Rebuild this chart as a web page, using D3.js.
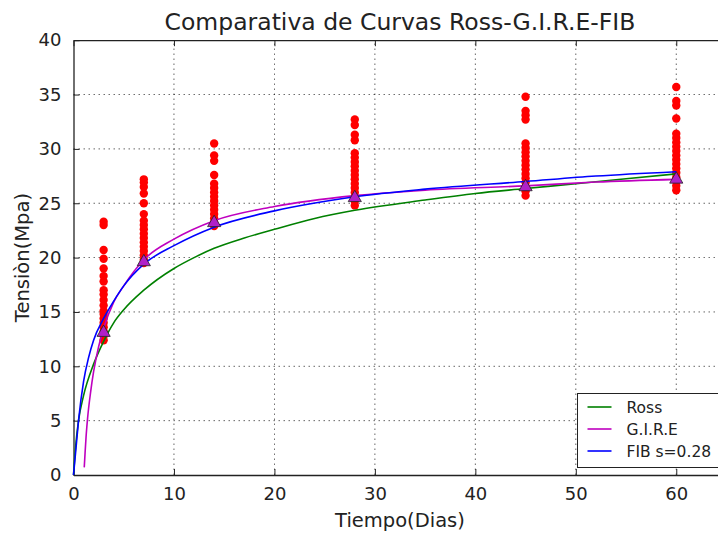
<!DOCTYPE html>
<html>
<head>
<meta charset="utf-8">
<script src="https://cdn.jsdelivr.net/npm/d3@7"></script>
<style>
    body { margin: 0; background: #fff; }
    svg { font-family: "DejaVu Sans", sans-serif; display: block; }
    .grid line { stroke: #000; stroke-width: 0.8; stroke-dasharray: 1.5,3.5; opacity: 0.75; }
</style>
</head>
<body>
<div id="chart"></div>
<script>
"use strict";

// ensayos (dias, tension)
const test_days = [3, 7, 14, 28, 45, 60];
const test_values = [
    [23.3, 23.0, 20.7, 19.9, 19.0, 18.3, 17.8, 17.0, 16.6, 16.1, 15.6, 15.1, 14.8, 14.4, 14.0, 13.6, 13.2, 12.8, 12.4],
    [27.2, 26.9, 26.5, 25.9, 25.0, 24.0, 23.4, 23.0, 22.6, 22.2, 21.8, 21.4, 21.0, 20.6, 20.2, 19.8, 19.5],
    [30.5, 29.4, 28.9, 27.6, 26.8, 26.4, 26.0, 25.6, 25.2, 24.8, 24.4, 24.0, 23.6, 23.2, 22.9],
    [32.7, 32.2, 31.3, 30.8, 29.6, 29.2, 28.8, 28.4, 28.0, 27.6, 27.2, 26.8, 26.4, 26.0, 25.6, 25.2, 24.8],
    [34.8, 33.5, 33.1, 32.7, 30.5, 30.1, 29.7, 29.3, 28.9, 28.5, 28.1, 27.7, 27.3, 26.9, 26.5, 26.1, 25.7],
    [35.7, 34.4, 34.0, 32.8, 31.4, 31.0, 30.6, 30.2, 29.8, 29.4, 29.0, 28.6, 28.2, 27.8, 27.4, 27.0, 26.6, 26.2]
];
const mean_values = [13.1, 19.6, 23.2, 25.5, 26.5, 27.2];

const ross_curve = [[0, 0], [0.25, 3.0], [0.5, 5.0], [1, 7.3], [2, 10.2], [3, 12.3], [4, 14.0], [5, 15.2],
    [7, 17.0], [10, 19.0], [12, 20.0], [14, 20.85], [17, 21.8], [20, 22.6], [24, 23.6], [28, 24.35],
    [35, 25.3], [40, 25.9], [45, 26.35], [50, 26.8], [55, 27.25], [60, 27.7]];
const gire_curve = [[1.07, 0.7], [1.15, 2.0], [1.25, 3.5], [1.4, 5.2], [1.7, 7.6], [2.0, 9.5], [2.5, 11.8],
    [3, 13.5], [4, 15.9], [5, 17.4], [7, 19.8], [10, 21.7], [14, 23.4], [20, 24.7], [28, 25.7], [35, 26.2],
    [45, 26.6], [52, 26.95], [60, 27.2]];
const fib_curve = [[0, 0], [0.25, 2.5], [0.5, 5.0], [1, 8.6], [1.5, 10.8], [2, 12.4], [3, 14.4], [4, 16.0],
    [5, 17.4], [7, 19.4], [10, 21.1], [14, 22.8], [20, 24.3], [28, 25.6], [35, 26.3], [45, 27.0],
    [52, 27.5], [60, 27.9]];

const series = [
    {name: 'Ross', color: '#008000', points: ross_curve},
    {name: 'G.I.R.E', color: '#bf00bf', points: gire_curve},
    {name: 'FIB s=0.28', color: '#0000ff', points: fib_curve}
];

const x_ticks = [0, 10, 20, 30, 40, 50, 60];
const y_ticks = [0, 5, 10, 15, 20, 25, 30, 35, 40];

const width = 718, height = 533;
const margin = {top: 40.2, left: 73.5, bottom: 58};
const plot_right = 726.5; // axes run past the cropped edge

const xScale = d3.scaleLinear().domain([0, 65]).range([margin.left, plot_right]);
const yScale = d3.scaleLinear().domain([0, 40]).range([height - margin.bottom, margin.top]);

const svg = d3.select('#chart').append('svg')
    .attr('width', width)
    .attr('height', height);

// grid
const grid = svg.append('g').attr('class', 'grid');
grid.selectAll('.gx').data(x_ticks.slice(1)).enter().append('line')
    .attr('x1', d => xScale(d)).attr('x2', d => xScale(d))
    .attr('y1', yScale(0)).attr('y2', yScale(40));
grid.selectAll('.gy').data(y_ticks.slice(1, -1)).enter().append('line')
    .attr('x1', xScale(0)).attr('x2', plot_right)
    .attr('y1', d => yScale(d)).attr('y2', d => yScale(d));

// axes, ticks pointing inwards
const xAxis = d3.axisBottom(xScale).tickValues(x_ticks).tickSizeInner(-6).tickSizeOuter(0).tickPadding(12);
const yAxis = d3.axisLeft(yScale).tickValues(y_ticks).tickSizeInner(-6).tickSizeOuter(0).tickPadding(12);
const xTop = d3.axisTop(xScale).tickValues(x_ticks).tickSizeInner(-6).tickSizeOuter(0).tickFormat('');

const gx = svg.append('g').attr('transform', `translate(0,${yScale(0)})`).call(xAxis);
const gt = svg.append('g').attr('transform', `translate(0,${yScale(40)})`).call(xTop);
const gy = svg.append('g').attr('transform', `translate(${xScale(0)},0)`).call(yAxis);

[gx, gt, gy].forEach(g => {
    g.select('.domain').attr('stroke', '#222').attr('stroke-width', 1.3);
    g.selectAll('.tick line').attr('stroke', '#222').attr('stroke-width', 1);
    g.selectAll('.tick text').attr('font-size', 18).attr('fill', '#222')
        .attr('font-family', '"DejaVu Sans", sans-serif');
});

// test points
const dots = [];
test_days.forEach((t, i) => test_values[i].forEach(v => dots.push({t: t, v: v})));
svg.append('g').selectAll('circle').data(dots).enter().append('circle')
    .attr('cx', d => xScale(d.t))
    .attr('cy', d => yScale(d.v))
    .attr('r', 4.2)
    .attr('fill', '#ff0000');

// curves
const line = d3.line()
    .x(d => xScale(d[0]))
    .y(d => yScale(d[1]))
    .curve(d3.curveMonotoneX);

svg.append('g').selectAll('path').data(series).enter().append('path')
    .attr('d', d => line(d.points))
    .attr('fill', 'none')
    .attr('stroke', d => d.color)
    .attr('stroke-width', 1.6);

// mean markers
svg.append('g').selectAll('path').data(test_days).enter().append('path')
    .attr('d', d3.symbol().type(d3.symbolTriangle).size(75))
    .attr('transform', (d, i) => `translate(${xScale(d)},${yScale(mean_values[i])})`)
    .attr('fill', '#b020c8')
    .attr('stroke', '#222')
    .attr('stroke-width', 0.8);

// legend
const legend = svg.append('g').attr('transform', 'translate(577.5,393.5)');
legend.append('rect')
    .attr('width', 160).attr('height', 74)
    .attr('fill', '#fff').attr('stroke', '#222').attr('stroke-width', 1);
series.forEach((s, i) => {
    const y = 13.5 + i * 22;
    legend.append('line')
        .attr('x1', 10).attr('x2', 34).attr('y1', y).attr('y2', y)
        .attr('stroke', s.color).attr('stroke-width', 1.6);
    legend.append('text')
        .attr('x', 49).attr('y', y + 5.5)
        .attr('font-size', 15.5).attr('fill', '#222')
        .text(s.name);
});

// titles
svg.append('text')
    .attr('x', (margin.left + plot_right) / 2).attr('y', 30)
    .attr('text-anchor', 'middle').attr('font-size', 23.5).attr('fill', '#222')
    .text('Comparativa de Curvas Ross-G.I.R.E-FIB');

svg.append('text')
    .attr('x', (margin.left + plot_right) / 2).attr('y', 527)
    .attr('text-anchor', 'middle').attr('font-size', 19.5).attr('fill', '#222')
    .text('Tiempo(Dias)');

svg.append('text')
    .attr('transform', `translate(29,${yScale(20)}) rotate(-90)`)
    .attr('text-anchor', 'middle').attr('font-size', 19.5).attr('fill', '#222')
    .text('Tensiòn(Mpa)');
</script>
</body>
</html>
